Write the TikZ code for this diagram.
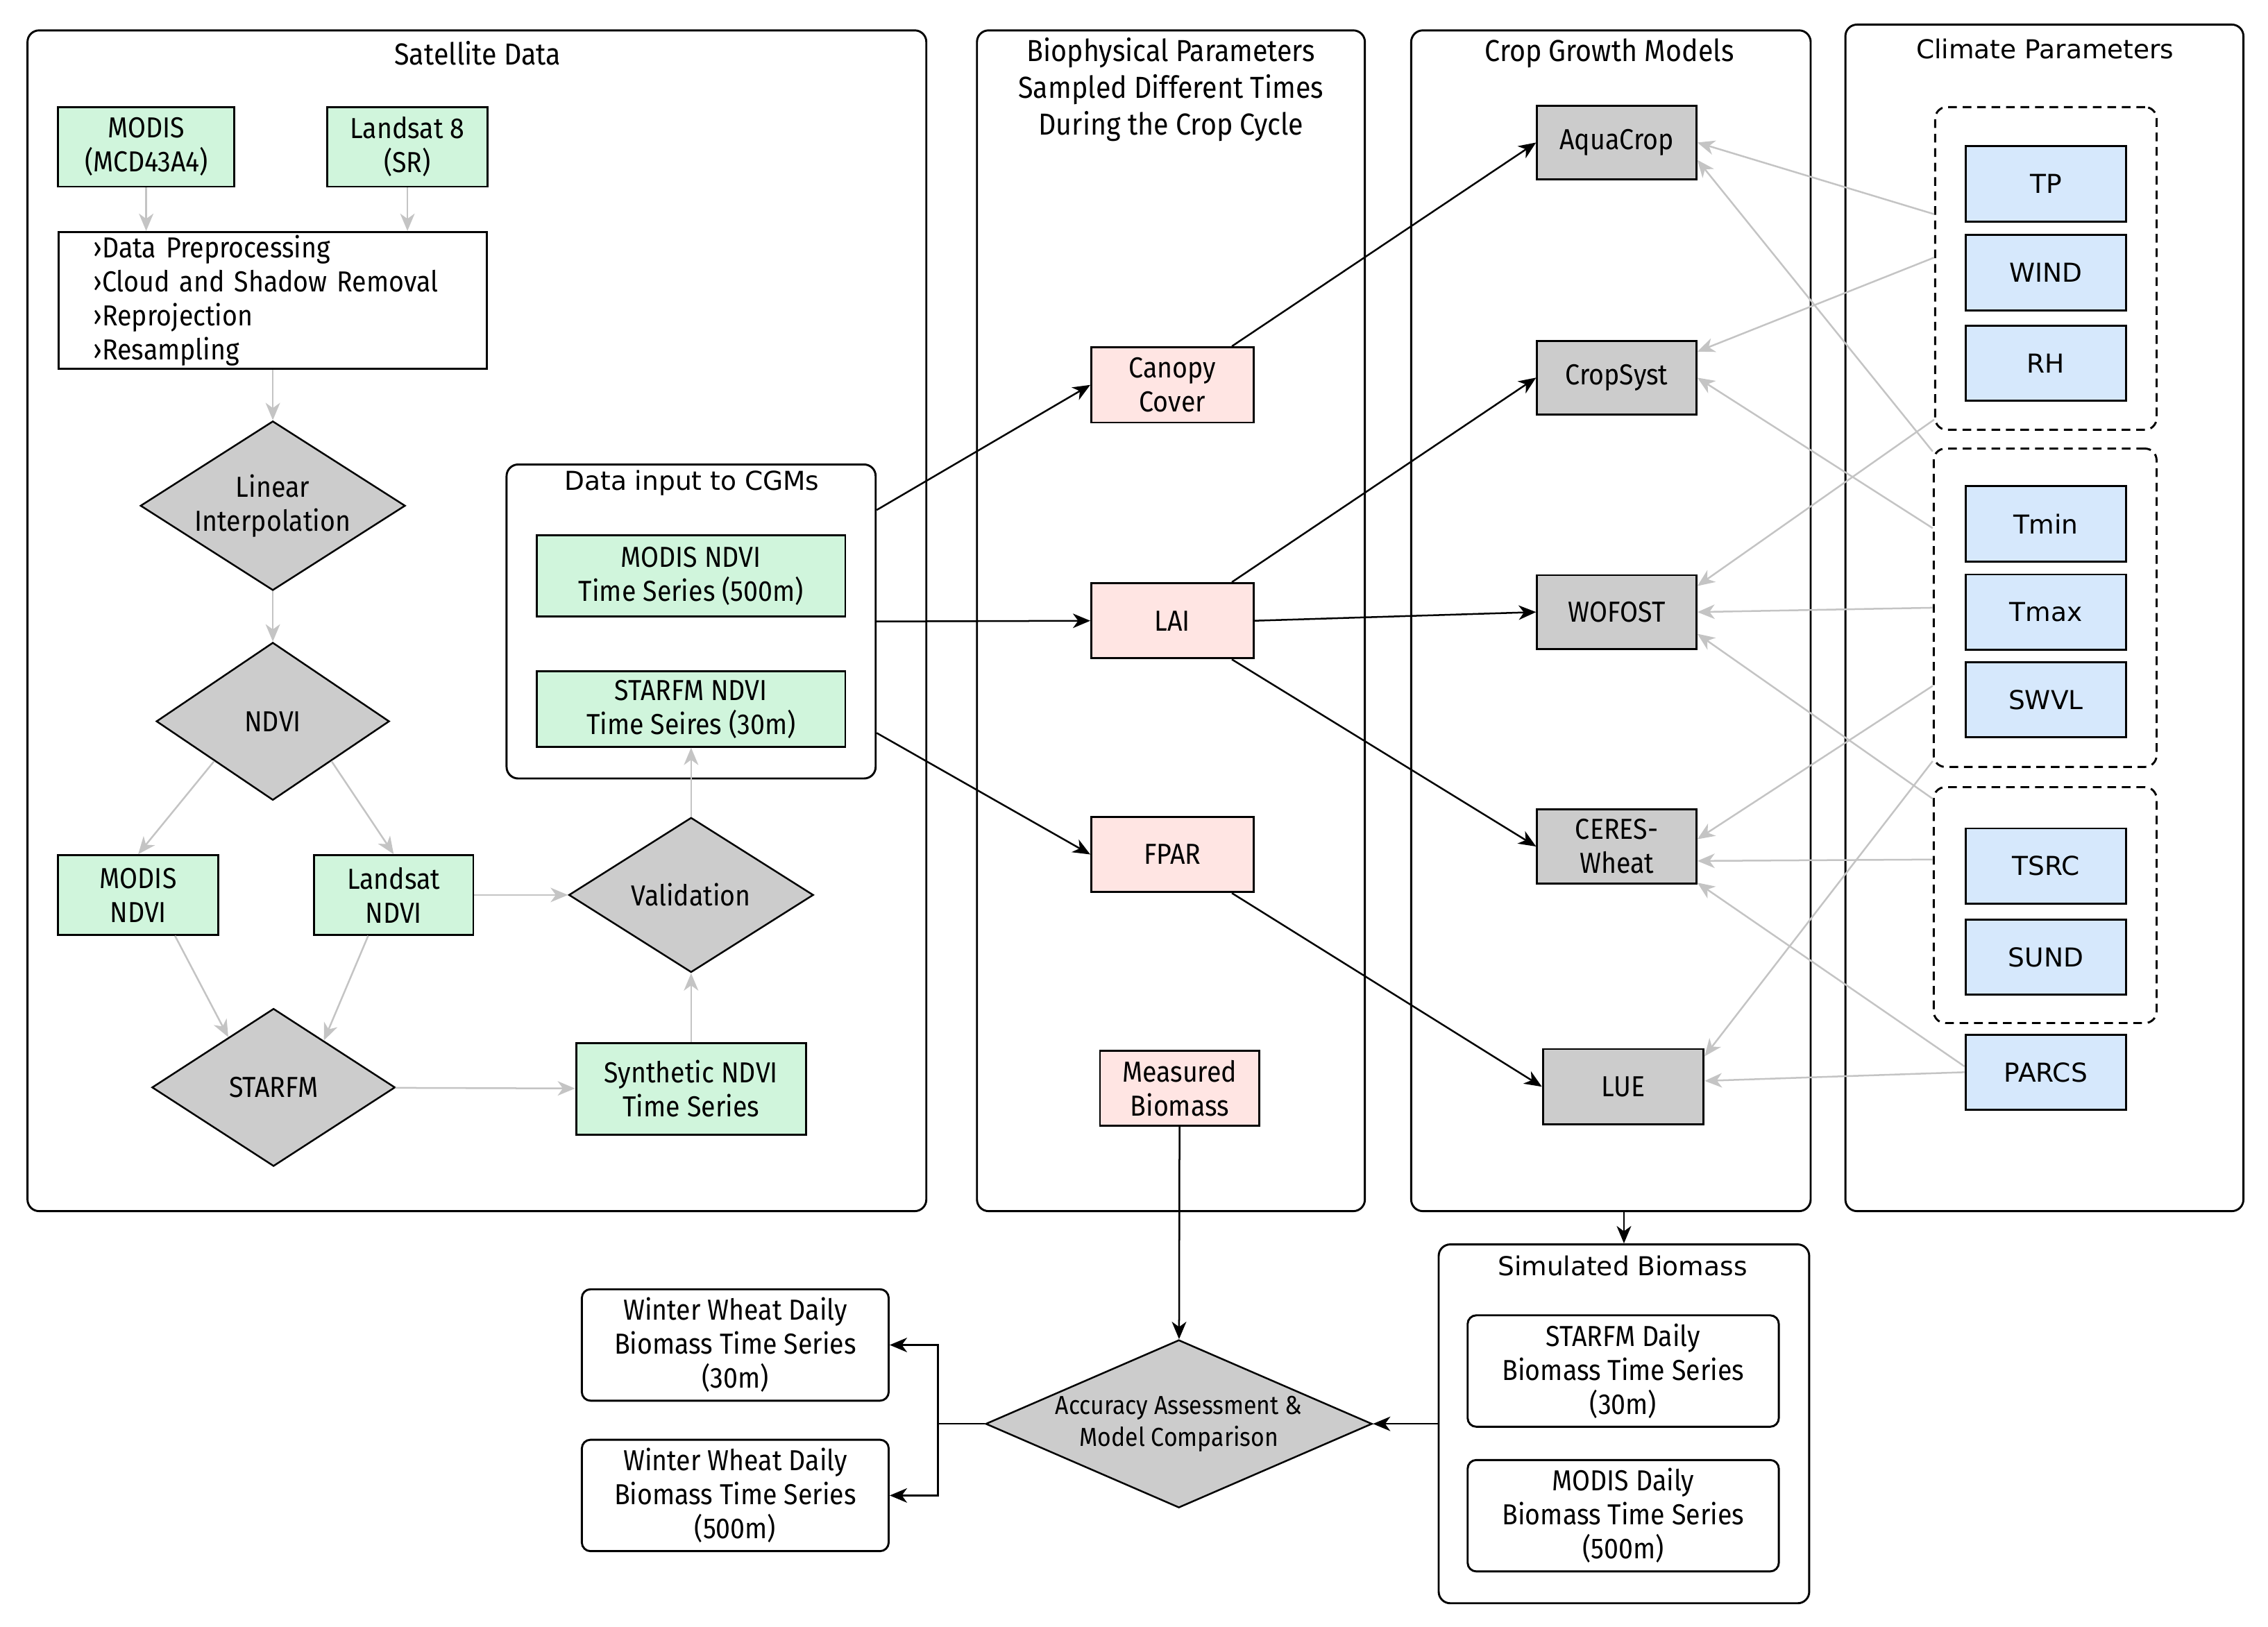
\documentclass[tikz,border=0pt]{standalone}
\usepackage{fontspec}
\setmainfont[FakeStretch=0.9]{Fira Sans}
\newfontfamily\dvsans{DejaVu Sans}
\usetikzlibrary{positioning}
\usetikzlibrary{shapes.geometric}
\usetikzlibrary{arrows.meta}
\definecolor{satgreen}{HTML}{D0F5DC}
\definecolor{biopink}{HTML}{FFE5E3}
\definecolor{cgmgray}{HTML}{CCCCCC}
\definecolor{climblue}{HTML}{D6E8FC}
\definecolor{linkgray}{HTML}{C4C4C4}

\begin{document}
\begin{tikzpicture}[x=0.5pt, y=-0.5pt,
        box/.style={draw, line width=0.7pt, align=center, inner sep=1pt, font=\fontsize{10}{11.75}\selectfont},
        gbox/.style={box, fill=satgreen},
        pbox/.style={box, fill=biopink, minimum width=56pt, minimum height=26pt},
        mbox/.style={box, fill=cgmgray, minimum width=55pt, minimum height=25.5pt},
        cbox/.style={box, fill=climblue, minimum width=55.5pt, minimum height=26pt, font=\dvsans\fontsize{9}{11}\selectfont},
        rbox/.style={box, rounded corners=3pt},
        decision/.style={draw, diamond, fill=cgmgray, line width=0.6pt, inner sep=0pt, align=center, font=\fontsize{10}{11.75}\selectfont},
        frame/.style={draw, rounded corners=4pt, line width=0.7pt},
        group/.style={draw, rounded corners=4pt, line width=0.7pt, dash pattern=on 3pt off 2pt},
        title/.style={align=center, font=\fontsize{10.5}{12.75}\selectfont},
        dvtitle/.style={align=center, font=\dvsans\fontsize{9}{11}\selectfont},
        garrow/.style={draw=linkgray, line width=0.6pt, -{Stealth[length=6pt,width=5pt,inset=1.8pt]}},
        barrow/.style={draw=black, line width=0.6pt, -{Stealth[length=6pt,width=5pt,inset=1.8pt]}}]
    \useasboundingbox (0,0) rectangle (1567,1124);

    % frames
    \node[frame, minimum width=310.5pt, minimum height=408pt] (sat) at (329.5,429) {};
    \node[frame, minimum width=134pt, minimum height=408pt] (bio) at (809,429) {};
    \node[frame, minimum width=138pt, minimum height=408pt] (cgm) at (1113,429) {};
    \node[frame, minimum width=137.5pt, minimum height=410pt] (clim) at (1412.5,427) {};
    \node[frame, minimum width=127.5pt, minimum height=108.5pt] (inp) at (477.5,429.5) {};
    \node[frame, minimum width=128pt, minimum height=124pt] (simb) at (1122,984) {};

    \node[title] (sattitle) at (330,37) {Satellite Data};
    \node[title] (biotitle) at (809,62) {Biophysical Parameters\\Sampled Different Times\\During the Crop Cycle};
    \node[title] (cgmtitle) at (1112,37) {Crop Growth Models};
    \node[dvtitle] (climtitle) at (1413,34) {Climate Parameters};
    \node[dvtitle] (inptitle) at (478,334) {Data input to CGMs};
    \node[dvtitle] (simbtitle) at (1121,875) {Simulated Biomass};

    % satellite data
    \node[gbox, minimum width=61pt, minimum height=27.5pt] (modis) at (101,101.5) {MODIS\\(MCD43A4)};
    \node[gbox, minimum width=55.5pt, minimum height=27.5pt] (landsat) at (281.5,101.5) {Landsat 8\\(SR)};
    \node[box, text width=124pt, inner xsep=12pt, align=left, minimum height=45.5pt] (prep) at (188.5,207.5)
        {›Data Preprocessing\\›Cloud and Shadow Removal\\›Reprojection\\›Resampling};
    \node[decision, shape aspect=1.56, minimum width=91.5pt, minimum height=58.5pt] (interp) at (188.5,349.5) {Linear\\Interpolation};
    \node[decision, minimum width=80.5pt, minimum height=54.5pt] (ndvi) at (188.5,498.5) {NDVI};
    \node[gbox, minimum width=55.5pt, minimum height=27.5pt] (mndvi) at (95.5,618.5) {MODIS\\NDVI};
    \node[gbox, minimum width=55pt, minimum height=27.5pt] (lndvi) at (272,618.5) {Landsat\\NDVI};
    \node[decision, minimum width=84pt, minimum height=54.5pt] (starfm) at (189,751.5) {STARFM};
    \node[gbox, minimum width=79.5pt, minimum height=31.5pt] (synth) at (477.5,752.5) {Synthetic NDVI\\Time Series};
    \node[decision, shape aspect=1.6, minimum width=84.5pt, minimum height=53.5pt] (valid) at (477.5,618.5) {Validation};
    \node[gbox, minimum width=106.5pt, minimum height=28pt] (mts) at (477.5,398) {MODIS NDVI\\Time Series (500m)};
    \node[gbox, minimum width=106.5pt, minimum height=26pt] (sts) at (477.5,490) {STARFM NDVI\\Time Seires (30m)};

    \draw[garrow] (modis) -- (modis |- prep.north);
    \draw[garrow] (landsat) -- (landsat |- prep.north);
    \draw[garrow] (prep) -- (interp);
    \draw[garrow] (interp) -- (ndvi);
    \draw[garrow] (ndvi.south west) -- (mndvi.north);
    \draw[garrow] (ndvi.south east) -- (lndvi.north);
    \draw[garrow] (mndvi.-48) -- (starfm.132);
    \draw[garrow] (lndvi.-122) -- (starfm.43);
    \draw[garrow] (starfm) -- (synth);
    \draw[garrow] (lndvi) -- (valid);
    \draw[garrow] (synth) -- (valid);
    \draw[garrow] (valid) -- (sts);

    % biophysical parameters
    \node[pbox] (canopy) at (810,266) {Canopy\\Cover};
    \node[pbox] (lai) at (810,429) {LAI};
    \node[pbox] (fpar) at (810,590.5) {FPAR};
    \node[pbox, minimum width=55pt] (meas) at (815,752) {Measured\\Biomass};

    % crop growth models
    \node[mbox] (aqua) at (1117,98.5) {AquaCrop};
    \node[mbox] (cropsyst) at (1117,261) {CropSyst};
    \node[mbox] (wofost) at (1117,423) {WOFOST};
    \node[mbox] (ceres) at (1117,585) {CERES-\\Wheat};
    \node[mbox, minimum width=55.5pt, minimum height=26pt] (lue) at (1121.5,751) {LUE};

    % climate parameters
    \node[group, minimum width=76.5pt, minimum height=111.5pt] (grpA) at (1413.5,185.5) {};
    \node[group, minimum width=77pt, minimum height=110pt] (grpB) at (1413,420) {};
    \node[group, minimum width=77pt, minimum height=81.5pt] (grpC) at (1413,625.5) {};
    \foreach \n/\t/\y in {tp/TP/127, wind/WIND/188.5, rh/RH/251, tmin/Tmin/362, tmax/Tmax/423,
            swvl/SWVL/483.5, tsrc/TSRC/598.5, sund/SUND/661.5, parcs/PARCS/741}
        \node[cbox] (\n) at (1413.5,\y) {\t};

    \draw[barrow] (inp.31) -- (canopy.west);
    \draw[barrow] (inp.east) -- (lai.west);
    \draw[barrow] (inp.-31) -- (fpar.west);
    \draw[barrow] (canopy.33) -- (aqua.west);
    \draw[barrow] (lai.33) -- (cropsyst.west);
    \draw[barrow] (lai.east) -- (wofost.west);
    \draw[barrow] (lai.-33) -- (ceres.west);
    \draw[barrow] (fpar.-33) -- (lue.west);

    \draw[garrow] ([yshift=18.75pt]grpA.west) -- (aqua.east);
    \draw[garrow] ([yshift=3.75pt]grpA.west) -- ([yshift=9pt]cropsyst.east);
    \draw[garrow] ([yshift=-52.25pt]grpA.west) -- ([yshift=9pt]wofost.east);
    \draw[garrow] ([yshift=54pt]grpB.west) -- ([yshift=-6pt]aqua.east);
    \draw[garrow] ([yshift=27.5pt]grpB.west) -- (cropsyst.east);
    \draw[garrow] (grpB.west) -- (wofost.east);
    \draw[garrow] ([yshift=-27pt]grpB.west) -- ([yshift=2.5pt]ceres.east);
    \draw[garrow] ([yshift=-53pt]grpB.west) -- ([yshift=10.5pt]lue.east);
    \draw[garrow] ([yshift=36.75pt]grpC.west) -- ([yshift=-7.5pt]wofost.east);
    \draw[garrow] ([yshift=15.75pt]grpC.west) -- ([yshift=-5pt]ceres.east);
    \draw[garrow] ([yshift=2pt]parcs.west) -- ([yshift=-12.5pt]ceres.east);
    \draw[garrow] (parcs.west) -- ([yshift=2pt]lue.east);

    % biomass and assessment
    \node[rbox, minimum width=107.5pt, minimum height=38.5pt] (sdaily) at (1121.5,947.5) {STARFM Daily\\Biomass Time Series\\(30m)};
    \node[rbox, minimum width=107.5pt, minimum height=38.5pt] (mdaily) at (1121.5,1047.5) {MODIS Daily\\Biomass Time Series\\(500m)};
    \node[decision, minimum width=133.5pt, minimum height=58pt,
        label={[align=center, font=\fontsize{9}{11}\selectfont]center:Accuracy Assessment \&\\Model Comparison}] (acc) at (814.5,984) {};
    \node[rbox, minimum width=106pt, minimum height=38.5pt] (ww30) at (508,929.5) {Winter Wheat Daily\\Biomass Time Series\\(30m)};
    \node[rbox, minimum width=106pt, minimum height=38.5pt] (ww500) at (508,1033.5) {Winter Wheat Daily\\Biomass Time Series\\(500m)};
    \coordinate (split) at (648,984);

    \draw[barrow] (cgm.south -| simb.north) -- (simb.north);
    \draw[barrow] (meas) -- (acc);
    \draw[barrow] (simb.west) -- (acc.east);
    \draw[line width=0.6pt] (acc.west) -- (split);
    \draw[barrow] (split) |- (ww30.east);
    \draw[barrow] (split) |- (ww500.east);
\end{tikzpicture}
\end{document}
